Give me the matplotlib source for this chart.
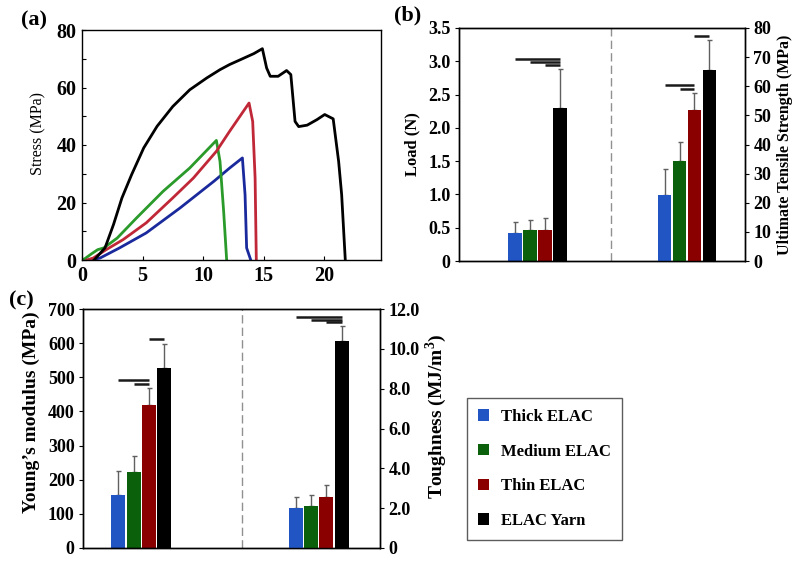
import numpy as np
import matplotlib
matplotlib.use("Agg")
import matplotlib.pyplot as plt
from matplotlib.patches import Patch

plt.rcParams['font.family'] = ['Liberation Serif', 'DejaVu Serif']
plt.rcParams['mathtext.fontset'] = 'custom'
plt.rcParams['mathtext.rm'] = 'Liberation Serif'
plt.rcParams['mathtext.bf'] = 'Liberation Serif:bold'

# ---------------- data ----------------
series = ["Thick ELAC", "Medium ELAC", "Thin ELAC", "ELAC Yarn"]
bar_colors = ["#2255c4", "#0b600b", "#8a0000", "#000000"]

# (a) stress-strain curves
black_x = [1.0, 1.9, 2.6, 3.3, 4.1, 5.1, 6.2, 7.5, 8.9, 10.3, 11.4, 12.2, 13.1, 14.2, 14.9,
           15.25, 15.55, 16.2, 16.9, 17.25, 17.6, 17.9, 18.6, 19.4, 20.05, 20.75, 21.2, 21.45, 21.75]
black_y = [0.0, 4.2, 12.3, 21.6, 29.7, 39.0, 46.5, 53.4, 59.2, 63.3, 66.2, 68.0, 69.7, 71.8, 73.5,
           66.8, 63.9, 63.9, 65.9, 64.5, 48.2, 46.4, 46.9, 48.8, 50.6, 49.1, 34.3, 22.7, 0.0]
red_x = [0.4, 0.94, 2.0, 3.4, 5.3, 7.5, 9.2, 11.1, 12.2, 13.8, 14.1, 14.3, 14.4]
red_y = [0.0, 0.7, 3.6, 7.1, 12.9, 21.6, 28.5, 37.8, 44.8, 54.6, 48.2, 28.5, 0.0]
green_x = [0.0, 0.25, 0.8, 1.3, 1.8, 2.9, 4.5, 6.7, 8.9, 11.1, 11.4, 11.7, 11.95]
green_y = [0.0, 0.5, 2.2, 3.6, 4.2, 7.6, 14.6, 23.9, 32.0, 41.6, 34.3, 17.0, 0.0]
blue_x = [0.8, 1.5, 3.1, 5.3, 8.1, 10.9, 12.2, 13.25, 13.47, 13.6, 13.94]
blue_y = [0.0, 0.7, 4.2, 9.4, 18.1, 27.4, 32.0, 35.5, 22.7, 4.2, 0.0]
curve_colors = ["#1a2a9c", "#2a9a2a", "#c02838", "#000000"]

# (b) load (left group) and UTS (right group)
load_mean = [0.42, 0.46, 0.47, 2.30]
load_err = [0.16, 0.15, 0.17, 0.58]
uts_mean = [22.7, 34.5, 51.9, 65.5]
uts_err = [8.8, 6.5, 5.8, 10.3]

# (c) Young's modulus (left group) and toughness (right group)
ym_mean = [155, 224, 419, 528]
ym_err = [70, 46, 51, 70]
tough_mean = [2.01, 2.13, 2.56, 10.39]
tough_err = [0.53, 0.51, 0.59, 0.77]

# significance bars: (from index, to index, height)
load_sig = [(0, 3, 3.03), (1, 3, 2.99), (2, 3, 2.95)]
uts_sig = [(0, 2, 60.3), (1, 2, 59.2), (2, 3, 77.1)]
ym_sig = [(0, 2, 493), (1, 2, 481), (2, 3, 613)]
tough_sig = [(0, 3, 11.58), (1, 3, 11.46), (2, 3, 11.35)]

# ---------------- figure ----------------
fig = plt.figure(figsize=(8.0, 5.62), dpi=100)

W, H = 800.0, 562.0
def ax_rect(l, t, r, b):
    return [l / W, 1 - b / H, (r - l) / W, (b - t) / H]

tick_fs = 13
bold = dict(fontweight='bold')

# ---------- (a) ----------
axa = fig.add_axes(ax_rect(82, 30, 381, 260))
for xs, ys, c in [(blue_x, blue_y, curve_colors[0]), (green_x, green_y, curve_colors[1]),
                  (red_x, red_y, curve_colors[2]), (black_x, black_y, curve_colors[3])]:
    axa.plot(xs, ys, color=c, lw=2.0, solid_joinstyle='round')
axa.set_xlim(0, 24.7)
axa.set_ylim(0, 80)
axa.set_xticks([0, 5, 10, 15, 20])
axa.set_yticks([0, 20, 40, 60, 80])
axa.set_yticks([10, 30, 50, 70], minor=True)
axa.tick_params(direction='in', length=3, width=0.8, labelsize=14.5, pad=4)
axa.tick_params(which='minor', direction='in', length=3, width=0.8)
for lab in axa.get_xticklabels() + axa.get_yticklabels():
    lab.set_fontweight('bold')
axa.set_ylabel("Stress (MPa)", fontsize=11.5)
axa.yaxis.set_label_coords(-0.118, 0.55)
for s in axa.spines.values():
    s.set_linewidth(1.0)
fig.text(34 / W, 1 - 20 / H, "(a)", fontsize=16, va='center', ha='center', **bold)

def bars(ax, centers, means, errs, width):
    for c, m, e, col in zip(centers, means, errs, bar_colors):
        ax.bar(c, m, width=width, color=col, edgecolor='none', zorder=2)
        ax.errorbar(c, m, yerr=[[0], [e]], fmt='none', ecolor='#606060',
                    elinewidth=1.0, capsize=1.8, capthick=1.0, zorder=1)

def sig(ax, centers, sigs):
    for i, j, h in sigs:
        ax.plot([centers[i], centers[j]], [h, h], color='#1a1a1a', lw=1.8,
                solid_capstyle='butt', zorder=3)

# ---------- (b) ----------
axb = fig.add_axes(ax_rect(459, 28, 745, 261))
axb2 = axb.twinx()
step_b = 0.1
wb = 0.092
g1 = [0 + (k - 1.5) * step_b for k in range(4)]
g2 = [1 + (k - 1.5) * step_b for k in range(4)]
bars(axb, g1, load_mean, load_err, wb)
sig(axb, g1, load_sig)
bars(axb2, g2, uts_mean, uts_err, wb)
sig(axb2, g2, uts_sig)
axb.set_xlim(-0.525, 1.388)
axb.axvline(0.49, color='#909090', lw=1.0, ls=(0, (6, 3)))
axb.set_ylim(0, 3.5)
axb2.set_ylim(0, 80)
axb.set_yticks([0, 0.5, 1.0, 1.5, 2.0, 2.5, 3.0, 3.5])
axb.set_yticklabels(["0", "0.5", "1.0", "1.5", "2.0", "2.5", "3.0", "3.5"])
axb2.set_yticks(range(0, 81, 10))
axb.set_xticks([])
for a in (axb, axb2):
    a.tick_params(direction='out', length=3, width=0.8, labelsize=tick_fs, pad=3)
    for lab in a.get_yticklabels():
        lab.set_fontweight('bold')
    for s in a.spines.values():
        s.set_linewidth(1.0)
axb.set_ylabel("Load (N)", fontsize=12, labelpad=6, **bold)
axb2.set_ylabel("Ultimate Tensile Strength (MPa)", fontsize=11.4, labelpad=4, **bold)
fig.text(408 / W, 1 - 15 / H, "(b)", fontsize=16, va='center', ha='center', **bold)

# ---------- (c) ----------
axc = fig.add_axes(ax_rect(83, 309, 380, 548))
axc2 = axc.twinx()
step_c = 0.0865
wc = 0.079
c1 = [0 + (k - 1.5) * step_c for k in range(4)]
c2 = [1 + (k - 1.5) * step_c for k in range(4)]
bars(axc, c1, ym_mean, ym_err, wc)
sig(axc, c1, ym_sig)
bars(axc2, c2, tough_mean, tough_err, wc)
sig(axc2, c2, tough_sig)
axc.set_xlim(-0.33, 1.347)
axc.axvline(0.568, color='#909090', lw=1.0, ls=(0, (6, 3)))
axc.set_ylim(0, 700)
axc2.set_ylim(0, 12)
axc.set_yticks(range(0, 701, 100))
axc2.set_yticks([0, 2, 4, 6, 8, 10, 12])
axc2.set_yticklabels(["0", "2.0", "4.0", "6.0", "8.0", "10.0", "12.0"])
axc.set_xticks([])
for a in (axc, axc2):
    a.tick_params(direction='out', length=3, width=0.8, labelsize=tick_fs, pad=3)
    for lab in a.get_yticklabels():
        lab.set_fontweight('bold')
    for s in a.spines.values():
        s.set_linewidth(1.0)
axc.set_ylabel("Young\u2019s modulus (MPa)", fontsize=14, **bold)
axc.yaxis.set_label_coords(-0.145, 0.57)
axc2.set_ylabel(r"Toughness (MJ/m$^{\mathbf{3}}$)", fontsize=14, labelpad=4, **bold)
axc2.yaxis.set_label_coords(1.146, 0.55)
fig.text(21 / W, 1 - 300 / H, "(c)", fontsize=16, va='center', ha='center', **bold)

# ---------- legend ----------
handles = [Patch(facecolor=c, edgecolor='none') for c in bar_colors]
leg = fig.legend(handles, series, loc='upper left',
                 bbox_to_anchor=(467 / W, 1 - 398 / H), bbox_transform=fig.transFigure,
                 frameon=True, fancybox=False, edgecolor='#333333',
                 prop={'family': 'Liberation Serif', 'weight': 'bold', 'size': 12},
                 handlelength=0.65, handleheight=0.65, handletextpad=0.75,
                 labelspacing=1.12, borderpad=0.65, borderaxespad=0)
leg.get_frame().set_linewidth(1.0)

fig.savefig("out.png", dpi=100)
